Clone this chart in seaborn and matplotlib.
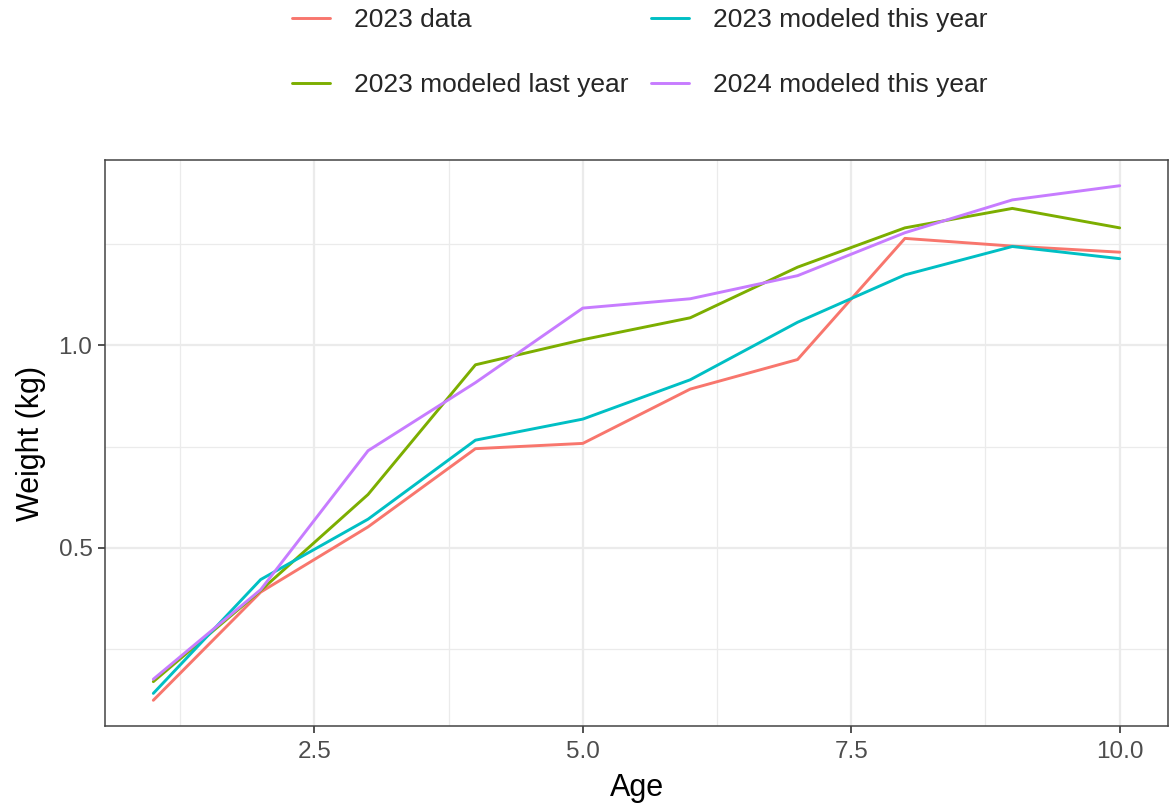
import numpy as np
import pandas as pd
import matplotlib
matplotlib.use("Agg")
import matplotlib.pyplot as plt
from matplotlib.ticker import FixedLocator
from matplotlib.lines import Line2D
import seaborn as sns

ages = [1, 2, 3, 4, 5, 6, 7, 8, 9, 10]
data_2023 = [0.124, 0.391, 0.552, 0.745, 0.758, 0.892, 0.965, 1.264, 1.245, 1.230]
modeled_last_2023 = [0.170, 0.395, 0.632, 0.952, 1.014, 1.068, 1.193, 1.290, 1.338, 1.290]
modeled_this_2023 = [0.141, 0.422, 0.571, 0.766, 0.818, 0.915, 1.057, 1.174, 1.244, 1.214]
modeled_this_2024 = [0.176, 0.397, 0.740, 0.908, 1.092, 1.115, 1.172, 1.278, 1.359, 1.394]

series_names = ["2023 data", "2023 modeled last year", "2023 modeled this year", "2024 modeled this year"]
series_values = [data_2023, modeled_last_2023, modeled_this_2023, modeled_this_2024]
colors = ["#F8766D", "#7CAE00", "#00BFC4", "#C77CFF"]

x_major = [2.5, 5.0, 7.5, 10.0]
x_minor = [1.25, 3.75, 6.25, 8.75]
y_major = [0.5, 1.0]
y_minor = [0.25, 0.75, 1.25]

df = pd.DataFrame({
    "Age": ages * len(series_names),
    "Weight": [v for vals in series_values for v in vals],
    "Series": [n for n in series_names for _ in ages],
})

sns.set_theme(style="white")
plt.rcParams["font.family"] = ["Liberation Sans", "DejaVu Sans"]

W, H = 1174, 806
fig = plt.figure(figsize=(W / 100, H / 100), dpi=100)
L, R, T, B = 105, 1168, 160, 726
ax = fig.add_axes([L / W, 1 - B / H, (R - L) / W, (B - T) / H])

sns.lineplot(data=df, x="Age", y="Weight", hue="Series", hue_order=series_names,
             palette=dict(zip(series_names, colors)), linewidth=2.1, ax=ax, legend=False,
             zorder=3)

ymin, ymax = min(df["Weight"]), max(df["Weight"])
yr = ymax - ymin
ax.set_xlim(1 - 0.45, 10 + 0.45)
ax.set_ylim(ymin - 0.05 * yr, ymax + 0.05 * yr)

ax.xaxis.set_major_locator(FixedLocator(x_major))
ax.xaxis.set_minor_locator(FixedLocator(x_minor))
ax.yaxis.set_major_locator(FixedLocator(y_major))
ax.yaxis.set_minor_locator(FixedLocator(y_minor))
ax.set_xticklabels([f"{v:.1f}" for v in x_major])
ax.set_yticklabels([f"{v:.1f}" for v in y_major])

ax.grid(True, which="major", color="#EBEBEB", linewidth=1.6, zorder=0)
ax.grid(True, which="minor", color="#EBEBEB", linewidth=0.9, zorder=0)
ax.set_axisbelow(True)
ax.tick_params(axis="x", which="major", pad=6)
ax.tick_params(axis="y", which="major", pad=4)
ax.tick_params(axis="both", which="major", length=5, width=1.2, color="#333333",
               labelsize=17.5, labelcolor="#4D4D4D", bottom=True, left=True)
ax.tick_params(axis="both", which="minor", length=0)
for s in ax.spines.values():
    s.set_color("#444444")
    s.set_linewidth(1.1)

ax.set_xlabel("Age", fontsize=22, color="black", labelpad=7)
ax.set_ylabel("Weight (kg)", fontsize=22, color="black", labelpad=9)

handles = [Line2D([0], [0], color=c, linewidth=2.1) for c in colors]
fig.legend(handles, series_names, loc="upper center", bbox_to_anchor=(0.545, 1.019), ncol=2,
           frameon=False, fontsize=19, handlelength=1.45, handletextpad=0.9,
           columnspacing=0.85, labelspacing=1.55)

fig.savefig("out.png", dpi=100, facecolor="white")
